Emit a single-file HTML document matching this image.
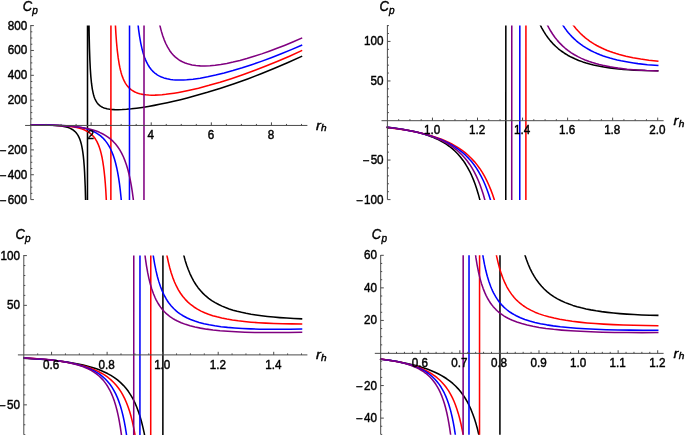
<!DOCTYPE html>
<html><head><meta charset="utf-8"><title>Cp vs rh</title>
<style>html,body{margin:0;padding:0;background:#fff;}svg{display:block;}</style>
</head><body>
<svg width="685" height="435" viewBox="0 0 685 435">
<defs>
<clipPath id="c1"><rect x="23.00" y="25.60" width="286.50" height="174.40"/></clipPath>
<clipPath id="c2"><rect x="379.40" y="25.60" width="286.30" height="174.40"/></clipPath>
<clipPath id="c3"><rect x="15.80" y="255.60" width="293.70" height="179.50"/></clipPath>
<clipPath id="c4"><rect x="372.70" y="255.30" width="293.00" height="179.50"/></clipPath>
</defs>
<g clip-path="url(#c1)" fill="none" stroke-width="1.55" stroke-linejoin="round" stroke-linecap="square">
<path d="M31.00 125.03 L44.86 125.05 L52.32 125.22 L55.81 125.40 L58.63 125.64 L61.35 125.97 L63.70 126.37 L66.19 126.94 L68.29 127.59 L70.26 128.39 L71.87 129.23 L73.36 130.20 L74.72 131.31 L75.95 132.56 L77.18 134.13 L78.15 135.66 L79.01 137.32 L79.76 139.08 L80.51 141.20 L81.15 143.42 L81.77 146.06 L82.30 148.84 L82.78 151.80 L83.30 155.90 L83.80 160.86 L84.23 166.25 L84.60 172.36 L85.22 186.84 L85.71 205.33 L85.75 205.60 L87.47 205.60 L87.53 19.60 L88.81 19.60 L88.92 20.92 L89.17 35.44 L89.49 48.74 L89.88 60.11 L90.31 68.88 L90.84 76.67 L91.49 83.23 L92.27 88.82 L93.13 93.12 L93.63 95.05 L94.13 96.69 L94.66 98.18 L95.30 99.69 L96.09 101.21 L96.80 102.35 L97.66 103.49 L98.44 104.37 L99.33 105.20 L100.40 106.03 L101.44 106.69 L102.72 107.36 L104.08 107.92 L105.33 108.33 L106.82 108.72 L108.43 109.05 L111.28 109.43 L114.53 109.64 L118.06 109.68 L122.23 109.56 L126.55 109.27 L131.40 108.81 L136.54 108.20 L142.24 107.40 L148.23 106.44 L154.23 105.37 L160.75 104.10 L167.25 102.74 L173.74 101.29 L180.48 99.68 L187.22 97.98 L194.21 96.12 L207.44 92.35 L220.68 88.25 L234.16 83.75 L247.64 78.92 L261.12 73.76 L274.57 68.30 L288.05 62.51 L301.50 56.41" stroke="#000000"/>
<path d="M31.00 125.03 L45.70 125.14 L52.01 125.29 L57.28 125.49 L61.97 125.75 L66.22 126.08 L70.13 126.51 L73.59 127.01 L76.69 127.60 L79.66 128.32 L82.25 129.13 L84.68 130.09 L86.96 131.21 L88.89 132.40 L90.68 133.73 L92.31 135.23 L93.95 137.06 L95.43 139.08 L96.84 141.46 L98.09 144.05 L99.21 146.87 L100.25 150.05 L101.14 153.36 L102.01 157.23 L102.80 161.57 L103.48 166.01 L104.12 171.03 L104.74 176.85 L105.27 182.95 L105.77 189.94 L106.63 205.51 L106.84 205.60 L110.87 205.60 L110.93 19.60 L115.06 19.60 L115.15 20.29 L115.88 33.57 L116.52 42.28 L117.31 50.71 L118.20 57.94 L119.22 64.27 L119.79 67.18 L120.43 69.99 L121.06 72.43 L121.82 74.97 L122.59 77.16 L123.35 79.06 L124.08 80.66 L124.97 82.37 L125.86 83.85 L126.75 85.15 L127.70 86.37 L128.81 87.60 L129.92 88.67 L131.07 89.61 L132.21 90.43 L133.58 91.27 L134.91 91.97 L136.47 92.65 L138.09 93.24 L139.61 93.69 L141.39 94.12 L143.23 94.47 L145.81 94.82 L148.67 95.06 L151.78 95.16 L154.96 95.14 L158.36 94.99 L162.07 94.72 L165.79 94.34 L169.79 93.83 L174.08 93.19 L178.66 92.41 L183.48 91.50 L188.31 90.49 L198.48 88.13 L209.15 85.33 L220.08 82.17 L231.26 78.64 L242.79 74.73 L254.36 70.53 L265.92 66.07 L277.71 61.25 L289.49 56.17 L301.50 50.73" stroke="#ff0000"/>
<path d="M31.00 125.03 L48.78 125.11 L60.40 125.40 L65.42 125.65 L70.02 125.99 L73.92 126.40 L77.75 126.93 L81.43 127.59 L84.69 128.34 L87.84 129.25 L90.83 130.31 L93.64 131.54 L96.09 132.84 L98.40 134.30 L100.57 135.92 L102.72 137.84 L104.85 140.11 L106.80 142.61 L108.59 145.33 L110.20 148.24 L111.73 151.51 L113.14 155.10 L114.45 159.05 L115.64 163.25 L116.75 167.95 L117.75 172.93 L118.69 178.41 L119.53 184.20 L120.31 190.61 L121.04 197.52 L121.76 205.60 L129.47 205.60 L129.53 19.60 L137.41 19.60 L137.53 19.89 L138.67 30.06 L139.65 36.86 L140.85 43.59 L142.20 49.55 L142.97 52.41 L143.75 54.95 L144.61 57.43 L145.44 59.57 L146.35 61.65 L147.39 63.72 L148.42 65.53 L149.51 67.22 L151.37 69.66 L152.43 70.84 L153.46 71.86 L154.50 72.78 L155.70 73.74 L156.90 74.59 L158.11 75.34 L159.51 76.10 L160.86 76.75 L162.24 77.32 L163.84 77.89 L167.11 78.79 L170.52 79.43 L172.81 79.72 L175.39 79.93 L177.83 80.03 L180.67 80.05 L183.51 79.98 L186.72 79.80 L193.02 79.19 L200.19 78.17 L207.67 76.81 L215.67 75.08 L224.19 72.98 L232.96 70.57 L242.27 67.77 L251.68 64.71 L261.31 61.37 L271.17 57.72 L281.26 53.78 L291.35 49.63 L301.50 45.25" stroke="#0000ff"/>
<path d="M31.00 125.03 L48.17 125.16 L55.10 125.33 L61.43 125.57 L67.06 125.89 L72.15 126.29 L76.95 126.80 L81.30 127.41 L85.52 128.16 L89.36 129.01 L93.03 130.01 L96.31 131.09 L99.47 132.34 L102.43 133.73 L105.29 135.32 L107.93 137.05 L110.60 139.11 L113.15 141.44 L115.56 144.05 L117.66 146.74 L119.77 149.91 L121.60 153.14 L123.35 156.77 L124.95 160.66 L126.40 164.79 L127.76 169.30 L129.04 174.30 L130.21 179.64 L131.28 185.41 L132.24 191.44 L133.09 197.62 L134.05 205.60 L143.97 205.60 L144.03 19.60 L158.52 19.60 L158.67 19.83 L159.91 25.58 L161.33 31.13 L162.74 35.77 L164.21 39.85 L165.89 43.77 L167.65 47.21 L169.62 50.42 L171.67 53.18 L173.87 55.65 L175.13 56.85 L176.42 57.96 L177.71 58.96 L178.99 59.85 L180.41 60.72 L181.88 61.53 L183.56 62.33 L185.16 62.99 L186.81 63.59 L188.47 64.09 L192.09 64.95 L195.90 65.54 L200.23 65.88 L204.90 65.95 L209.99 65.73 L215.19 65.25 L220.78 64.48 L226.82 63.42 L233.12 62.09 L239.94 60.42 L246.80 58.55 L254.12 56.34 L261.68 53.88 L269.24 51.23 L277.04 48.32 L285.07 45.16 L293.34 41.73 L301.50 38.18" stroke="#800080"/>
</g>
<g stroke="#4a4a4a" stroke-width="1.00" fill="none">
<line x1="25.10" y1="125.45" x2="307.40" y2="125.45"/>
<line x1="30.80" y1="25.00" x2="30.80" y2="199.60"/>
<line x1="46.03" y1="125.45" x2="46.03" y2="123.95"/>
<line x1="61.06" y1="125.45" x2="61.06" y2="123.95"/>
<line x1="76.08" y1="125.45" x2="76.08" y2="123.95"/>
<line x1="91.11" y1="125.45" x2="91.11" y2="122.35"/>
<line x1="106.14" y1="125.45" x2="106.14" y2="123.95"/>
<line x1="121.17" y1="125.45" x2="121.17" y2="123.95"/>
<line x1="136.19" y1="125.45" x2="136.19" y2="123.95"/>
<line x1="151.22" y1="125.45" x2="151.22" y2="122.35"/>
<line x1="166.25" y1="125.45" x2="166.25" y2="123.95"/>
<line x1="181.28" y1="125.45" x2="181.28" y2="123.95"/>
<line x1="196.31" y1="125.45" x2="196.31" y2="123.95"/>
<line x1="211.33" y1="125.45" x2="211.33" y2="122.35"/>
<line x1="226.36" y1="125.45" x2="226.36" y2="123.95"/>
<line x1="241.39" y1="125.45" x2="241.39" y2="123.95"/>
<line x1="256.42" y1="125.45" x2="256.42" y2="123.95"/>
<line x1="271.44" y1="125.45" x2="271.44" y2="122.35"/>
<line x1="286.47" y1="125.45" x2="286.47" y2="123.95"/>
<line x1="301.50" y1="125.45" x2="301.50" y2="123.95"/>
<line x1="30.80" y1="199.60" x2="33.90" y2="199.60"/>
<line x1="30.80" y1="193.39" x2="32.30" y2="193.39"/>
<line x1="30.80" y1="187.17" x2="32.30" y2="187.17"/>
<line x1="30.80" y1="180.96" x2="32.30" y2="180.96"/>
<line x1="30.80" y1="174.74" x2="33.90" y2="174.74"/>
<line x1="30.80" y1="168.53" x2="32.30" y2="168.53"/>
<line x1="30.80" y1="162.31" x2="32.30" y2="162.31"/>
<line x1="30.80" y1="156.10" x2="32.30" y2="156.10"/>
<line x1="30.80" y1="149.89" x2="33.90" y2="149.89"/>
<line x1="30.80" y1="143.67" x2="32.30" y2="143.67"/>
<line x1="30.80" y1="137.46" x2="32.30" y2="137.46"/>
<line x1="30.80" y1="131.24" x2="32.30" y2="131.24"/>
<line x1="30.80" y1="118.81" x2="32.30" y2="118.81"/>
<line x1="30.80" y1="112.60" x2="32.30" y2="112.60"/>
<line x1="30.80" y1="106.39" x2="32.30" y2="106.39"/>
<line x1="30.80" y1="100.17" x2="33.90" y2="100.17"/>
<line x1="30.80" y1="93.96" x2="32.30" y2="93.96"/>
<line x1="30.80" y1="87.74" x2="32.30" y2="87.74"/>
<line x1="30.80" y1="81.53" x2="32.30" y2="81.53"/>
<line x1="30.80" y1="75.31" x2="33.90" y2="75.31"/>
<line x1="30.80" y1="69.10" x2="32.30" y2="69.10"/>
<line x1="30.80" y1="62.89" x2="32.30" y2="62.89"/>
<line x1="30.80" y1="56.67" x2="32.30" y2="56.67"/>
<line x1="30.80" y1="50.46" x2="33.90" y2="50.46"/>
<line x1="30.80" y1="44.24" x2="32.30" y2="44.24"/>
<line x1="30.80" y1="38.03" x2="32.30" y2="38.03"/>
<line x1="30.80" y1="31.81" x2="32.30" y2="31.81"/>
<line x1="30.80" y1="25.60" x2="33.90" y2="25.60"/>
</g>
<g font-family="Liberation Sans, sans-serif" font-size="11.5" fill="#000" stroke="#000" stroke-width="0.4">
<text transform="translate(90.71 139.05) scale(1.015 1.11)" text-anchor="middle">2</text>
<text transform="translate(150.82 139.05) scale(1.015 1.11)" text-anchor="middle">4</text>
<text transform="translate(210.93 139.05) scale(1.015 1.11)" text-anchor="middle">6</text>
<text transform="translate(271.04 139.05) scale(1.015 1.11)" text-anchor="middle">8</text>
<text transform="translate(27.20 203.60) scale(1.015 1.08)" text-anchor="end"><tspan dy="0.9">−</tspan><tspan dx="1.3" dy="-0.9">600</tspan></text>
<text transform="translate(27.20 178.74) scale(1.015 1.08)" text-anchor="end"><tspan dy="0.9">−</tspan><tspan dx="1.3" dy="-0.9">400</tspan></text>
<text transform="translate(27.20 153.89) scale(1.015 1.08)" text-anchor="end"><tspan dy="0.9">−</tspan><tspan dx="1.3" dy="-0.9">200</tspan></text>
<text transform="translate(27.20 104.17) scale(1.015 1.08)" text-anchor="end">200</text>
<text transform="translate(27.20 79.31) scale(1.015 1.08)" text-anchor="end">400</text>
<text transform="translate(27.20 54.46) scale(1.015 1.08)" text-anchor="end">600</text>
<text transform="translate(27.20 29.60) scale(1.015 1.08)" text-anchor="end">800</text>
<text transform="translate(22.70 11.00) scale(1 1.07)" font-style="italic" font-size="13">C<tspan font-size="10" dy="2.6" dx="0.2">p</tspan></text>
<text transform="translate(315.90 129.65) scale(1.12 1.02)" font-style="italic" font-size="13">r<tspan font-size="9" dy="1.8" dx="0.2">h</tspan></text>
</g>
<g clip-path="url(#c2)" fill="none" stroke-width="1.55" stroke-linejoin="round" stroke-linecap="square">
<path d="M387.40 127.28 L392.37 127.84 L397.34 128.49 L402.04 129.19 L406.30 129.90 L410.41 130.69 L414.51 131.57 L418.36 132.50 L422.01 133.49 L425.56 134.57 L428.88 135.69 L432.09 136.90 L435.13 138.18 L438.17 139.59 L440.89 140.99 L443.66 142.56 L446.22 144.17 L449.54 146.51 L452.56 148.93 L455.38 151.49 L458.06 154.23 L460.61 157.17 L463.09 160.41 L465.38 163.78 L467.51 167.30 L469.53 171.03 L471.52 175.19 L473.29 179.35 L475.07 184.01 L476.67 188.71 L478.25 193.92 L479.67 199.16 L481.25 205.60 L505.77 205.60 L505.83 19.60 L537.73 19.60 L537.90 19.80 L540.13 24.73 L541.83 28.06 L543.73 31.42 L545.75 34.63 L547.98 37.79 L550.41 40.86 L552.84 43.58 L555.55 46.28 L558.38 48.78 L561.22 51.00 L564.43 53.23 L567.67 55.21 L571.12 57.06 L574.81 58.81 L578.69 60.41 L582.79 61.89 L586.13 62.95 L589.67 63.96 L593.47 64.91 L597.27 65.76 L601.07 66.50 L605.24 67.22 L609.70 67.89 L614.16 68.46 L618.89 68.97 L623.62 69.41 L628.64 69.78 L634.11 70.11 L645.35 70.55 L657.70 70.72" stroke="#000000"/>
<path d="M387.40 127.49 L398.48 128.92 L403.47 129.67 L408.45 130.51 L413.11 131.39 L417.68 132.33 L422.00 133.32 L426.32 134.41 L430.38 135.55 L434.14 136.70 L437.84 137.95 L441.53 139.33 L444.99 140.75 L448.22 142.21 L451.34 143.74 L454.25 145.31 L458.13 147.64 L461.82 150.15 L465.14 152.68 L468.42 155.49 L471.49 158.46 L474.40 161.61 L477.08 164.87 L479.71 168.45 L482.15 172.20 L484.46 176.15 L486.66 180.35 L488.80 184.96 L490.74 189.62 L492.59 194.58 L494.34 199.85 L496.05 205.58 L525.87 205.60 L525.93 19.60 L569.29 19.60 L569.51 19.72 L571.35 22.52 L573.20 25.09 L576.25 28.91 L577.94 30.82 L579.79 32.76 L581.50 34.43 L583.43 36.20 L585.37 37.83 L587.48 39.49 L589.61 41.04 L591.98 42.64 L594.35 44.12 L596.72 45.48 L599.14 46.77 L601.78 48.06 L604.41 49.25 L607.27 50.44 L610.12 51.53 L613.02 52.55 L616.16 53.56 L619.30 54.49 L625.92 56.20 L633.03 57.72 L640.68 59.05 L648.87 60.20 L657.70 61.17" stroke="#ff0000"/>
<path d="M387.40 127.29 L393.07 128.02 L398.37 128.77 L403.40 129.57 L408.16 130.42 L412.67 131.30 L417.17 132.28 L421.40 133.29 L425.53 134.39 L429.41 135.52 L433.05 136.70 L436.58 137.95 L440.12 139.33 L443.43 140.75 L446.51 142.20 L449.60 143.80 L452.38 145.37 L455.96 147.62 L459.47 150.10 L462.64 152.64 L465.78 155.45 L468.71 158.41 L471.49 161.57 L474.03 164.80 L476.55 168.40 L478.80 172.01 L481.05 176.05 L483.14 180.28 L485.13 184.77 L486.98 189.46 L488.75 194.47 L490.43 199.79 L492.06 205.60 L519.77 205.60 L519.83 19.60 L559.40 19.60 L559.61 19.70 L561.45 22.90 L563.38 25.96 L564.90 28.17 L566.55 30.41 L568.34 32.66 L570.18 34.78 L572.11 36.85 L574.20 38.90 L576.30 40.79 L578.48 42.61 L580.87 44.43 L583.26 46.11 L585.74 47.70 L588.43 49.28 L591.12 50.73 L594.02 52.15 L597.09 53.52 L600.08 54.73 L603.30 55.92 L606.52 57.00 L609.90 58.03 L613.44 59.00 L617.23 59.94 L621.02 60.79 L625.06 61.59 L629.18 62.32 L633.59 63.01 L638.00 63.62 L647.38 64.68 L657.70 65.53" stroke="#0000ff"/>
<path d="M387.40 127.31 L392.83 127.96 L397.95 128.65 L402.80 129.39 L407.38 130.18 L411.69 131.01 L415.96 131.93 L419.94 132.88 L423.92 133.94 L427.65 135.05 L431.31 136.27 L434.73 137.52 L437.92 138.82 L440.97 140.18 L444.08 141.72 L446.98 143.31 L449.57 144.87 L452.93 147.12 L456.10 149.53 L459.10 152.10 L462.09 155.00 L464.80 157.97 L467.27 161.01 L469.74 164.44 L471.97 167.93 L474.21 171.87 L476.22 175.84 L478.09 179.97 L479.93 184.55 L481.67 189.41 L483.25 194.33 L484.66 199.23 L486.32 205.60 L511.72 205.60 L511.78 19.60 L544.66 19.60 L544.91 19.68 L546.66 23.54 L548.60 27.37 L550.67 31.01 L552.74 34.27 L555.00 37.45 L557.34 40.38 L559.82 43.17 L562.52 45.86 L565.24 48.29 L568.21 50.63 L571.32 52.81 L574.44 54.74 L577.89 56.65 L581.39 58.35 L585.12 59.95 L589.23 61.50 L592.39 62.55 L595.79 63.57 L599.20 64.49 L602.68 65.33 L606.42 66.13 L610.17 66.85 L614.18 67.52 L618.20 68.12 L626.88 69.16 L636.51 70.00 L646.73 70.58 L657.70 70.94" stroke="#800080"/>
</g>
<g stroke="#4a4a4a" stroke-width="1.00" fill="none">
<line x1="381.50" y1="120.70" x2="663.60" y2="120.70"/>
<line x1="387.40" y1="25.00" x2="387.40" y2="199.60"/>
<line x1="398.66" y1="120.70" x2="398.66" y2="119.20"/>
<line x1="409.92" y1="120.70" x2="409.92" y2="119.20"/>
<line x1="421.19" y1="120.70" x2="421.19" y2="119.20"/>
<line x1="432.45" y1="120.70" x2="432.45" y2="117.60"/>
<line x1="443.71" y1="120.70" x2="443.71" y2="119.20"/>
<line x1="454.98" y1="120.70" x2="454.98" y2="119.20"/>
<line x1="466.24" y1="120.70" x2="466.24" y2="119.20"/>
<line x1="477.50" y1="120.70" x2="477.50" y2="117.60"/>
<line x1="488.76" y1="120.70" x2="488.76" y2="119.20"/>
<line x1="500.02" y1="120.70" x2="500.02" y2="119.20"/>
<line x1="511.29" y1="120.70" x2="511.29" y2="119.20"/>
<line x1="522.55" y1="120.70" x2="522.55" y2="117.60"/>
<line x1="533.81" y1="120.70" x2="533.81" y2="119.20"/>
<line x1="545.08" y1="120.70" x2="545.08" y2="119.20"/>
<line x1="556.34" y1="120.70" x2="556.34" y2="119.20"/>
<line x1="567.60" y1="120.70" x2="567.60" y2="117.60"/>
<line x1="578.86" y1="120.70" x2="578.86" y2="119.20"/>
<line x1="590.12" y1="120.70" x2="590.12" y2="119.20"/>
<line x1="601.39" y1="120.70" x2="601.39" y2="119.20"/>
<line x1="612.65" y1="120.70" x2="612.65" y2="117.60"/>
<line x1="623.91" y1="120.70" x2="623.91" y2="119.20"/>
<line x1="635.18" y1="120.70" x2="635.18" y2="119.20"/>
<line x1="646.44" y1="120.70" x2="646.44" y2="119.20"/>
<line x1="657.70" y1="120.70" x2="657.70" y2="117.60"/>
<line x1="387.40" y1="199.60" x2="390.50" y2="199.60"/>
<line x1="387.40" y1="191.69" x2="388.90" y2="191.69"/>
<line x1="387.40" y1="183.78" x2="388.90" y2="183.78"/>
<line x1="387.40" y1="175.87" x2="388.90" y2="175.87"/>
<line x1="387.40" y1="167.96" x2="388.90" y2="167.96"/>
<line x1="387.40" y1="160.05" x2="390.50" y2="160.05"/>
<line x1="387.40" y1="152.15" x2="388.90" y2="152.15"/>
<line x1="387.40" y1="144.24" x2="388.90" y2="144.24"/>
<line x1="387.40" y1="136.33" x2="388.90" y2="136.33"/>
<line x1="387.40" y1="128.42" x2="388.90" y2="128.42"/>
<line x1="387.40" y1="112.60" x2="388.90" y2="112.60"/>
<line x1="387.40" y1="104.69" x2="388.90" y2="104.69"/>
<line x1="387.40" y1="96.78" x2="388.90" y2="96.78"/>
<line x1="387.40" y1="88.87" x2="388.90" y2="88.87"/>
<line x1="387.40" y1="80.96" x2="390.50" y2="80.96"/>
<line x1="387.40" y1="73.05" x2="388.90" y2="73.05"/>
<line x1="387.40" y1="65.15" x2="388.90" y2="65.15"/>
<line x1="387.40" y1="57.24" x2="388.90" y2="57.24"/>
<line x1="387.40" y1="49.33" x2="388.90" y2="49.33"/>
<line x1="387.40" y1="41.42" x2="390.50" y2="41.42"/>
<line x1="387.40" y1="33.51" x2="388.90" y2="33.51"/>
<line x1="387.40" y1="25.60" x2="388.90" y2="25.60"/>
</g>
<g font-family="Liberation Sans, sans-serif" font-size="11.5" fill="#000" stroke="#000" stroke-width="0.4">
<text transform="translate(432.05 134.30) scale(1.015 1.11)" text-anchor="middle">1.0</text>
<text transform="translate(477.10 134.30) scale(1.015 1.11)" text-anchor="middle">1.2</text>
<text transform="translate(522.15 134.30) scale(1.015 1.11)" text-anchor="middle">1.4</text>
<text transform="translate(567.20 134.30) scale(1.015 1.11)" text-anchor="middle">1.6</text>
<text transform="translate(612.25 134.30) scale(1.015 1.11)" text-anchor="middle">1.8</text>
<text transform="translate(657.30 134.30) scale(1.015 1.11)" text-anchor="middle">2.0</text>
<text transform="translate(383.60 203.60) scale(1.015 1.08)" text-anchor="end"><tspan dy="0.9">−</tspan><tspan dx="1.3" dy="-0.9">100</tspan></text>
<text transform="translate(383.60 164.05) scale(1.015 1.08)" text-anchor="end"><tspan dy="0.9">−</tspan><tspan dx="1.3" dy="-0.9">50</tspan></text>
<text transform="translate(383.60 84.96) scale(1.015 1.08)" text-anchor="end">50</text>
<text transform="translate(383.60 45.42) scale(1.015 1.08)" text-anchor="end">100</text>
<text transform="translate(379.40 11.00) scale(1 1.07)" font-style="italic" font-size="13">C<tspan font-size="10" dy="2.6" dx="0.2">p</tspan></text>
<text transform="translate(673.60 124.90) scale(1.12 1.02)" font-style="italic" font-size="13">r<tspan font-size="9" dy="1.8" dx="0.2">h</tspan></text>
</g>
<g clip-path="url(#c3)" fill="none" stroke-width="1.55" stroke-linejoin="round" stroke-linecap="square">
<path d="M23.80 358.15 L32.24 358.66 L40.38 359.24 L47.63 359.85 L54.59 360.54 L60.98 361.29 L67.11 362.13 L72.67 363.01 L78.12 364.01 L83.22 365.10 L87.81 366.23 L92.30 367.50 L96.48 368.85 L100.42 370.32 L104.22 371.94 L107.56 373.57 L110.90 375.42 L114.35 377.63 L117.50 379.96 L120.61 382.61 L123.37 385.34 L125.97 388.30 L128.47 391.59 L130.76 395.07 L132.85 398.71 L134.82 402.67 L136.70 407.00 L138.46 411.69 L140.04 416.50 L141.47 421.52 L142.87 427.07 L144.26 433.46 L145.58 440.50 L145.69 440.70 L162.87 440.70 L162.93 249.60 L182.15 249.60 L182.40 249.74 L183.72 255.16 L185.17 260.40 L186.70 265.20 L188.27 269.53 L189.93 273.55 L191.76 277.43 L193.72 281.08 L195.82 284.49 L198.04 287.64 L200.42 290.59 L203.00 293.38 L205.75 295.97 L208.64 298.34 L211.78 300.58 L215.13 302.65 L218.67 304.55 L222.02 306.13 L225.48 307.56 L229.18 308.90 L233.10 310.16 L237.17 311.30 L241.49 312.36 L246.06 313.33 L251.03 314.25 L256.02 315.05 L261.56 315.82 L267.38 316.50 L273.48 317.10 L279.81 317.63 L286.72 318.10 L293.92 318.49 L301.50 318.82" stroke="#000000"/>
<path d="M23.80 357.84 L31.80 358.36 L39.20 358.94 L46.02 359.56 L52.62 360.27 L58.67 361.04 L64.44 361.89 L69.61 362.78 L74.68 363.80 L79.51 364.92 L83.82 366.07 L87.80 367.30 L91.76 368.70 L95.37 370.17 L98.76 371.75 L101.93 373.45 L104.81 375.21 L108.05 377.48 L110.97 379.87 L113.68 382.44 L116.21 385.23 L118.58 388.24 L120.74 391.41 L122.77 394.86 L124.70 398.64 L126.50 402.71 L128.13 406.98 L129.65 411.57 L131.09 416.58 L132.42 421.92 L133.69 427.79 L134.83 433.89 L135.93 440.66 L136.21 440.70 L150.72 440.70 L150.78 249.60 L165.85 249.60 L167.26 257.01 L168.47 262.59 L169.82 268.02 L171.25 272.96 L172.81 277.60 L174.52 281.97 L176.33 285.96 L178.36 289.80 L180.50 293.26 L182.84 296.50 L185.25 299.37 L187.94 302.11 L190.93 304.71 L193.99 306.98 L197.41 309.14 L201.03 311.08 L204.64 312.74 L208.49 314.24 L212.71 315.66 L216.98 316.87 L221.75 318.03 L226.88 319.07 L232.41 320.01 L238.21 320.83 L244.29 321.53 L250.97 322.16 L258.21 322.69 L265.75 323.12 L273.89 323.46 L282.63 323.71 L291.68 323.86 L301.50 323.92" stroke="#ff0000"/>
<path d="M23.80 358.03 L31.35 358.44 L38.61 358.93 L45.29 359.48 L51.34 360.08 L57.04 360.76 L62.46 361.54 L67.33 362.36 L71.96 363.28 L76.24 364.28 L80.24 365.37 L84.19 366.63 L87.68 367.93 L90.91 369.32 L94.10 370.90 L97.07 372.61 L99.78 374.42 L102.58 376.58 L105.27 379.02 L107.60 381.46 L109.90 384.29 L112.07 387.39 L113.96 390.55 L115.71 393.90 L117.39 397.64 L118.94 401.63 L120.41 406.03 L121.80 410.86 L123.08 416.00 L124.24 421.42 L125.35 427.37 L126.39 433.91 L127.32 440.65 L127.57 440.70 L139.92 440.70 L139.98 249.60 L152.26 249.60 L152.44 249.85 L153.52 257.33 L154.71 264.28 L156.00 270.69 L157.37 276.45 L158.83 281.63 L160.44 286.50 L162.19 290.97 L164.13 295.15 L166.23 298.97 L167.31 300.70 L168.52 302.48 L169.73 304.11 L171.05 305.73 L173.63 308.53 L176.43 311.10 L177.94 312.32 L179.64 313.57 L181.33 314.71 L183.03 315.75 L186.69 317.72 L190.57 319.47 L194.80 321.06 L199.16 322.43 L204.03 323.70 L209.15 324.79 L214.80 325.79 L220.99 326.66 L227.54 327.39 L234.65 328.00 L242.35 328.50 L250.64 328.89 L259.52 329.15 L268.92 329.30 L279.26 329.34 L289.92 329.26 L301.50 329.07" stroke="#0000ff"/>
<path d="M23.80 358.07 L31.13 358.42 L38.17 358.85 L44.32 359.32 L50.22 359.88 L55.72 360.51 L60.94 361.24 L65.74 362.05 L70.10 362.92 L74.21 363.90 L78.04 364.97 L81.61 366.14 L84.95 367.42 L88.02 368.79 L91.07 370.37 L93.85 372.06 L96.42 373.86 L99.04 376.00 L101.51 378.37 L103.73 380.85 L105.83 383.60 L107.76 386.52 L109.61 389.78 L111.37 393.41 L112.96 397.25 L114.43 401.36 L115.80 405.83 L117.05 410.54 L118.22 415.68 L119.32 421.27 L120.31 427.09 L121.28 433.72 L122.16 440.69 L133.72 440.70 L133.78 249.60 L144.23 249.60 L144.35 249.81 L145.41 258.50 L146.53 266.08 L147.65 272.43 L148.88 278.32 L150.27 283.95 L151.78 289.04 L153.46 293.76 L155.25 297.98 L156.26 300.05 L157.26 301.94 L158.33 303.77 L159.44 305.52 L160.56 307.13 L161.82 308.78 L163.08 310.28 L164.42 311.74 L165.76 313.07 L167.27 314.44 L168.78 315.69 L170.35 316.86 L171.91 317.94 L173.67 319.04 L175.44 320.05 L177.39 321.06 L181.20 322.77 L185.47 324.36 L190.00 325.75 L195.03 327.02 L200.43 328.12 L206.58 329.14 L213.01 329.98 L220.00 330.70 L227.72 331.31 L236.02 331.80 L244.94 332.17 L254.78 332.42 L265.24 332.56 L276.62 332.59 L288.61 332.50 L301.50 332.30" stroke="#800080"/>
</g>
<g stroke="#4a4a4a" stroke-width="1.00" fill="none">
<line x1="17.90" y1="354.90" x2="307.40" y2="354.90"/>
<line x1="23.80" y1="255.00" x2="23.80" y2="434.70"/>
<line x1="37.69" y1="354.90" x2="37.69" y2="353.40"/>
<line x1="51.57" y1="354.90" x2="51.57" y2="351.80"/>
<line x1="65.45" y1="354.90" x2="65.45" y2="353.40"/>
<line x1="79.34" y1="354.90" x2="79.34" y2="353.40"/>
<line x1="93.22" y1="354.90" x2="93.22" y2="353.40"/>
<line x1="107.11" y1="354.90" x2="107.11" y2="351.80"/>
<line x1="121.00" y1="354.90" x2="121.00" y2="353.40"/>
<line x1="134.88" y1="354.90" x2="134.88" y2="353.40"/>
<line x1="148.77" y1="354.90" x2="148.77" y2="353.40"/>
<line x1="162.65" y1="354.90" x2="162.65" y2="351.80"/>
<line x1="176.54" y1="354.90" x2="176.54" y2="353.40"/>
<line x1="190.42" y1="354.90" x2="190.42" y2="353.40"/>
<line x1="204.31" y1="354.90" x2="204.31" y2="353.40"/>
<line x1="218.19" y1="354.90" x2="218.19" y2="351.80"/>
<line x1="232.07" y1="354.90" x2="232.07" y2="353.40"/>
<line x1="245.96" y1="354.90" x2="245.96" y2="353.40"/>
<line x1="259.85" y1="354.90" x2="259.85" y2="353.40"/>
<line x1="273.73" y1="354.90" x2="273.73" y2="351.80"/>
<line x1="287.62" y1="354.90" x2="287.62" y2="353.40"/>
<line x1="301.50" y1="354.90" x2="301.50" y2="353.40"/>
<line x1="23.80" y1="434.70" x2="25.30" y2="434.70"/>
<line x1="23.80" y1="424.75" x2="25.30" y2="424.75"/>
<line x1="23.80" y1="414.80" x2="25.30" y2="414.80"/>
<line x1="23.80" y1="404.85" x2="26.90" y2="404.85"/>
<line x1="23.80" y1="394.90" x2="25.30" y2="394.90"/>
<line x1="23.80" y1="384.95" x2="25.30" y2="384.95"/>
<line x1="23.80" y1="375.00" x2="25.30" y2="375.00"/>
<line x1="23.80" y1="365.05" x2="25.30" y2="365.05"/>
<line x1="23.80" y1="345.15" x2="25.30" y2="345.15"/>
<line x1="23.80" y1="335.20" x2="25.30" y2="335.20"/>
<line x1="23.80" y1="325.25" x2="25.30" y2="325.25"/>
<line x1="23.80" y1="315.30" x2="25.30" y2="315.30"/>
<line x1="23.80" y1="305.35" x2="26.90" y2="305.35"/>
<line x1="23.80" y1="295.40" x2="25.30" y2="295.40"/>
<line x1="23.80" y1="285.45" x2="25.30" y2="285.45"/>
<line x1="23.80" y1="275.50" x2="25.30" y2="275.50"/>
<line x1="23.80" y1="265.55" x2="25.30" y2="265.55"/>
<line x1="23.80" y1="255.60" x2="26.90" y2="255.60"/>
</g>
<g font-family="Liberation Sans, sans-serif" font-size="11.5" fill="#000" stroke="#000" stroke-width="0.4">
<text transform="translate(51.17 368.50) scale(1.015 1.11)" text-anchor="middle">0.6</text>
<text transform="translate(106.71 368.50) scale(1.015 1.11)" text-anchor="middle">0.8</text>
<text transform="translate(162.25 368.50) scale(1.015 1.11)" text-anchor="middle">1.0</text>
<text transform="translate(217.79 368.50) scale(1.015 1.11)" text-anchor="middle">1.2</text>
<text transform="translate(273.33 368.50) scale(1.015 1.11)" text-anchor="middle">1.4</text>
<text transform="translate(20.00 408.85) scale(1.015 1.08)" text-anchor="end"><tspan dy="0.9">−</tspan><tspan dx="1.3" dy="-0.9">50</tspan></text>
<text transform="translate(20.00 309.35) scale(1.015 1.08)" text-anchor="end">50</text>
<text transform="translate(20.00 259.60) scale(1.015 1.08)" text-anchor="end">100</text>
<text transform="translate(15.50 239.10) scale(1 1.07)" font-style="italic" font-size="13">C<tspan font-size="10" dy="2.6" dx="0.2">p</tspan></text>
<text transform="translate(315.90 359.10) scale(1.12 1.02)" font-style="italic" font-size="13">r<tspan font-size="9" dy="1.8" dx="0.2">h</tspan></text>
</g>
<g clip-path="url(#c4)" fill="none" stroke-width="1.55" stroke-linejoin="round" stroke-linecap="square">
<path d="M380.70 359.14 L386.54 359.91 L392.11 360.74 L397.37 361.61 L402.28 362.51 L406.93 363.46 L411.58 364.52 L415.88 365.60 L420.17 366.81 L423.98 368.00 L427.80 369.32 L431.36 370.69 L434.86 372.19 L438.13 373.75 L441.16 375.35 L443.94 376.98 L446.70 378.77 L449.92 381.11 L452.78 383.47 L455.52 386.01 L458.23 388.85 L460.67 391.76 L463.04 394.95 L465.20 398.25 L467.35 401.96 L469.28 405.73 L471.17 409.92 L472.85 414.17 L474.46 418.75 L475.97 423.60 L477.41 428.80 L478.78 434.45 L480.03 440.29 L480.23 440.40 L499.92 440.40 L499.98 249.30 L523.01 249.30 L523.27 249.45 L524.77 254.56 L526.43 259.53 L528.21 264.23 L530.11 268.58 L532.11 272.61 L534.26 276.42 L536.63 280.07 L539.05 283.33 L541.57 286.31 L544.41 289.25 L547.30 291.86 L550.43 294.32 L553.74 296.60 L557.45 298.82 L561.24 300.78 L565.29 302.60 L569.07 304.08 L572.86 305.39 L577.12 306.68 L581.38 307.82 L586.11 308.92 L590.84 309.88 L596.10 310.80 L601.67 311.64 L607.46 312.38 L613.53 313.03 L619.89 313.61 L626.83 314.13 L634.06 314.56 L641.58 314.91 L649.58 315.19 L657.70 315.38" stroke="#000000"/>
<path d="M380.70 359.03 L385.97 359.73 L390.72 360.44 L395.20 361.21 L399.68 362.08 L403.71 362.96 L407.67 363.94 L411.37 364.97 L414.87 366.07 L418.32 367.29 L421.45 368.53 L424.45 369.87 L427.20 371.24 L429.77 372.67 L432.34 374.27 L434.70 375.90 L437.05 377.73 L439.69 380.04 L442.08 382.43 L444.30 384.96 L446.51 387.82 L448.62 390.94 L450.48 394.08 L452.21 397.40 L453.89 401.05 L455.47 404.97 L456.95 409.15 L458.35 413.65 L459.62 418.27 L460.87 423.46 L461.99 428.73 L463.02 434.17 L464.05 440.40 L479.52 440.40 L479.58 249.30 L495.26 249.30 L496.77 256.90 L498.08 262.62 L499.56 268.22 L501.16 273.39 L502.95 278.30 L504.82 282.70 L506.83 286.77 L509.09 290.65 L511.47 294.13 L512.80 295.86 L514.14 297.46 L515.48 298.93 L516.93 300.42 L518.36 301.76 L519.96 303.16 L521.56 304.44 L523.34 305.75 L525.10 306.94 L526.97 308.11 L530.71 310.17 L534.95 312.16 L539.23 313.86 L543.74 315.38 L548.73 316.82 L554.05 318.11 L559.66 319.27 L565.80 320.33 L572.22 321.27 L579.31 322.13 L587.03 322.90 L595.05 323.55 L603.66 324.12 L613.16 324.61 L623.26 325.01 L633.95 325.32 L645.53 325.55 L657.70 325.70" stroke="#ff0000"/>
<path d="M380.70 359.16 L385.45 359.73 L390.00 360.36 L394.24 361.05 L398.46 361.84 L402.21 362.64 L405.71 363.51 L409.08 364.45 L412.38 365.51 L415.54 366.66 L418.41 367.86 L421.14 369.14 L423.61 370.46 L426.11 371.96 L428.36 373.49 L430.66 375.25 L432.66 376.98 L434.91 379.19 L437.12 381.68 L439.18 384.35 L440.99 387.04 L442.75 390.04 L444.38 393.21 L445.93 396.63 L447.36 400.25 L448.68 404.07 L449.93 408.17 L451.11 412.57 L452.21 417.27 L453.21 422.10 L454.18 427.43 L455.16 433.52 L456.08 440.19 L456.17 440.40 L468.97 440.40 L469.03 249.30 L481.92 249.30 L483.24 257.69 L484.44 264.19 L485.82 270.56 L487.30 276.30 L488.90 281.55 L490.70 286.50 L491.64 288.78 L492.68 291.08 L493.68 293.12 L494.82 295.23 L495.95 297.16 L497.08 298.93 L498.37 300.77 L499.63 302.42 L501.04 304.11 L502.46 305.66 L503.87 307.08 L505.38 308.47 L506.89 309.75 L508.59 311.06 L510.29 312.26 L512.18 313.48 L514.22 314.69 L516.20 315.75 L520.39 317.70 L524.85 319.45 L529.63 321.01 L534.92 322.44 L540.45 323.69 L546.71 324.86 L553.22 325.86 L560.30 326.75 L567.94 327.53 L576.43 328.22 L585.43 328.79 L595.49 329.28 L606.18 329.66 L617.82 329.95 L630.09 330.13 L643.30 330.22 L657.70 330.21" stroke="#0000ff"/>
<path d="M380.70 359.18 L385.10 359.70 L389.48 360.31 L393.40 360.94 L397.31 361.68 L400.83 362.45 L404.29 363.32 L407.63 364.30 L410.67 365.31 L413.55 366.42 L416.16 367.55 L418.84 368.88 L421.22 370.23 L423.53 371.71 L425.67 373.26 L427.73 374.95 L429.71 376.79 L431.82 379.04 L433.80 381.45 L435.66 384.05 L437.39 386.83 L438.94 389.68 L440.49 392.94 L441.94 396.41 L443.30 400.16 L444.53 404.06 L445.70 408.26 L446.80 412.78 L447.82 417.55 L448.75 422.54 L449.67 428.14 L450.54 434.16 L451.32 440.38 L463.12 440.40 L463.18 249.30 L474.53 249.30 L474.82 249.56 L475.92 257.64 L477.09 264.80 L478.45 271.77 L479.88 277.85 L481.43 283.39 L483.18 288.59 L485.03 293.16 L486.04 295.34 L487.08 297.39 L488.11 299.27 L489.28 301.20 L490.45 302.97 L491.74 304.76 L493.04 306.39 L494.50 308.06 L495.96 309.58 L497.42 310.97 L498.94 312.29 L500.69 313.67 L502.45 314.93 L504.20 316.08 L506.14 317.24 L508.02 318.26 L510.07 319.27 L512.34 320.29 L516.87 322.06 L521.71 323.61 L527.15 325.06 L532.86 326.31 L539.09 327.44 L545.93 328.44 L553.52 329.34 L561.69 330.12 L570.73 330.79 L580.36 331.35 L590.87 331.80 L602.22 332.15 L614.54 332.41 L627.84 332.56 L642.10 332.62 L657.70 332.58" stroke="#800080"/>
</g>
<g stroke="#4a4a4a" stroke-width="1.00" fill="none">
<line x1="374.80" y1="353.35" x2="663.60" y2="353.35"/>
<line x1="380.70" y1="255.00" x2="380.70" y2="434.40"/>
<line x1="388.61" y1="353.35" x2="388.61" y2="351.85"/>
<line x1="396.53" y1="353.35" x2="396.53" y2="351.85"/>
<line x1="404.44" y1="353.35" x2="404.44" y2="351.85"/>
<line x1="412.36" y1="353.35" x2="412.36" y2="351.85"/>
<line x1="420.27" y1="353.35" x2="420.27" y2="350.25"/>
<line x1="428.19" y1="353.35" x2="428.19" y2="351.85"/>
<line x1="436.10" y1="353.35" x2="436.10" y2="351.85"/>
<line x1="444.01" y1="353.35" x2="444.01" y2="351.85"/>
<line x1="451.93" y1="353.35" x2="451.93" y2="351.85"/>
<line x1="459.84" y1="353.35" x2="459.84" y2="350.25"/>
<line x1="467.76" y1="353.35" x2="467.76" y2="351.85"/>
<line x1="475.67" y1="353.35" x2="475.67" y2="351.85"/>
<line x1="483.59" y1="353.35" x2="483.59" y2="351.85"/>
<line x1="491.50" y1="353.35" x2="491.50" y2="351.85"/>
<line x1="499.41" y1="353.35" x2="499.41" y2="350.25"/>
<line x1="507.33" y1="353.35" x2="507.33" y2="351.85"/>
<line x1="515.24" y1="353.35" x2="515.24" y2="351.85"/>
<line x1="523.16" y1="353.35" x2="523.16" y2="351.85"/>
<line x1="531.07" y1="353.35" x2="531.07" y2="351.85"/>
<line x1="538.99" y1="353.35" x2="538.99" y2="350.25"/>
<line x1="546.90" y1="353.35" x2="546.90" y2="351.85"/>
<line x1="554.81" y1="353.35" x2="554.81" y2="351.85"/>
<line x1="562.73" y1="353.35" x2="562.73" y2="351.85"/>
<line x1="570.64" y1="353.35" x2="570.64" y2="351.85"/>
<line x1="578.56" y1="353.35" x2="578.56" y2="350.25"/>
<line x1="586.47" y1="353.35" x2="586.47" y2="351.85"/>
<line x1="594.39" y1="353.35" x2="594.39" y2="351.85"/>
<line x1="602.30" y1="353.35" x2="602.30" y2="351.85"/>
<line x1="610.21" y1="353.35" x2="610.21" y2="351.85"/>
<line x1="618.13" y1="353.35" x2="618.13" y2="350.25"/>
<line x1="626.04" y1="353.35" x2="626.04" y2="351.85"/>
<line x1="633.96" y1="353.35" x2="633.96" y2="351.85"/>
<line x1="641.87" y1="353.35" x2="641.87" y2="351.85"/>
<line x1="649.79" y1="353.35" x2="649.79" y2="351.85"/>
<line x1="657.70" y1="353.35" x2="657.70" y2="350.25"/>
<line x1="380.70" y1="434.40" x2="382.20" y2="434.40"/>
<line x1="380.70" y1="426.26" x2="382.20" y2="426.26"/>
<line x1="380.70" y1="418.12" x2="383.80" y2="418.12"/>
<line x1="380.70" y1="409.98" x2="382.20" y2="409.98"/>
<line x1="380.70" y1="401.84" x2="382.20" y2="401.84"/>
<line x1="380.70" y1="393.70" x2="382.20" y2="393.70"/>
<line x1="380.70" y1="385.55" x2="383.80" y2="385.55"/>
<line x1="380.70" y1="377.41" x2="382.20" y2="377.41"/>
<line x1="380.70" y1="369.27" x2="382.20" y2="369.27"/>
<line x1="380.70" y1="361.13" x2="382.20" y2="361.13"/>
<line x1="380.70" y1="344.85" x2="382.20" y2="344.85"/>
<line x1="380.70" y1="336.71" x2="382.20" y2="336.71"/>
<line x1="380.70" y1="328.57" x2="382.20" y2="328.57"/>
<line x1="380.70" y1="320.43" x2="383.80" y2="320.43"/>
<line x1="380.70" y1="312.29" x2="382.20" y2="312.29"/>
<line x1="380.70" y1="304.15" x2="382.20" y2="304.15"/>
<line x1="380.70" y1="296.00" x2="382.20" y2="296.00"/>
<line x1="380.70" y1="287.86" x2="383.80" y2="287.86"/>
<line x1="380.70" y1="279.72" x2="382.20" y2="279.72"/>
<line x1="380.70" y1="271.58" x2="382.20" y2="271.58"/>
<line x1="380.70" y1="263.44" x2="382.20" y2="263.44"/>
<line x1="380.70" y1="255.30" x2="383.80" y2="255.30"/>
</g>
<g font-family="Liberation Sans, sans-serif" font-size="11.5" fill="#000" stroke="#000" stroke-width="0.4">
<text transform="translate(419.87 366.95) scale(1.015 1.11)" text-anchor="middle">0.6</text>
<text transform="translate(459.44 366.95) scale(1.015 1.11)" text-anchor="middle">0.7</text>
<text transform="translate(499.01 366.95) scale(1.015 1.11)" text-anchor="middle">0.8</text>
<text transform="translate(538.59 366.95) scale(1.015 1.11)" text-anchor="middle">0.9</text>
<text transform="translate(578.16 366.95) scale(1.015 1.11)" text-anchor="middle">1.0</text>
<text transform="translate(617.73 366.95) scale(1.015 1.11)" text-anchor="middle">1.1</text>
<text transform="translate(657.30 366.95) scale(1.015 1.11)" text-anchor="middle">1.2</text>
<text transform="translate(376.90 422.12) scale(1.015 1.08)" text-anchor="end"><tspan dy="0.9">−</tspan><tspan dx="1.3" dy="-0.9">40</tspan></text>
<text transform="translate(376.90 389.55) scale(1.015 1.08)" text-anchor="end"><tspan dy="0.9">−</tspan><tspan dx="1.3" dy="-0.9">20</tspan></text>
<text transform="translate(376.90 324.43) scale(1.015 1.08)" text-anchor="end">20</text>
<text transform="translate(376.90 291.86) scale(1.015 1.08)" text-anchor="end">40</text>
<text transform="translate(376.90 259.30) scale(1.015 1.08)" text-anchor="end">60</text>
<text transform="translate(371.80 238.80) scale(1 1.07)" font-style="italic" font-size="13">C<tspan font-size="10" dy="2.6" dx="0.2">p</tspan></text>
<text transform="translate(673.60 357.55) scale(1.12 1.02)" font-style="italic" font-size="13">r<tspan font-size="9" dy="1.8" dx="0.2">h</tspan></text>
</g>
</svg>
</body></html>
